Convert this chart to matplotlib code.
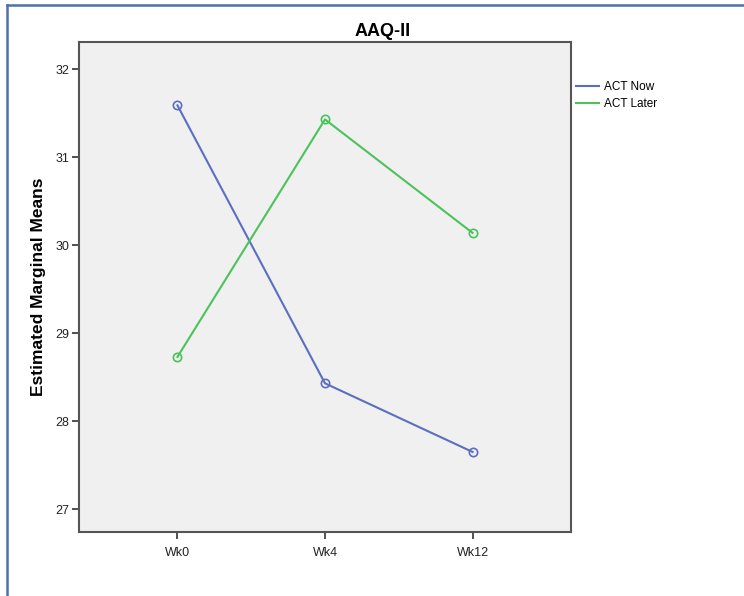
import numpy as np
import matplotlib
matplotlib.use("Agg")
import matplotlib.pyplot as plt
from matplotlib.lines import Line2D

plt.rcParams['font.family'] = ['Liberation Sans', 'DejaVu Sans']

weeks = ['Wk0', 'Wk4', 'Wk12']
act_now = [31.59, 28.43, 27.65]
act_later = [28.73, 31.43, 30.14]
yticks = [27, 28, 29, 30, 31, 32]

c_now = '#5b6fc2'
c_later = '#4cc35a'

fig = plt.figure(figsize=(7.44, 5.96), dpi=100)
ax = fig.add_axes([79/744, 1 - 532/596, (571 - 79)/744, (532 - 42)/596])
ax.set_facecolor('#f0f0f0')

x = np.arange(1, len(weeks) + 1)
ax.plot(x, act_now, color=c_now, lw=1.5, marker='o', ms=6,
        mfc='none', mew=1.2)
ax.plot(x, act_later, color=c_later, lw=1.5, marker='o', ms=6,
        mfc='none', mew=1.2)

ax.set_xlim(1 - 0.667, 3 + 0.667)
ax.set_ylim(26.74, 32.31)
ax.set_xticks(x)
ax.set_xticklabels(weeks)
ax.set_yticks(yticks)
ax.tick_params(axis='both', labelsize=9, length=5, width=1.2, pad=2,
               color='#333333', labelcolor='#222222', direction='out')
ax.tick_params(axis='x', pad=6)
for s in ax.spines.values():
    s.set_color('#555555')
    s.set_linewidth(1.5)

ax.set_ylabel('Estimated Marginal Means', fontsize=12.5, fontweight='bold',
              labelpad=7)
fig.text(383/744, 1 - 32/596, 'AAQ-II', ha='center', va='center',
         fontsize=13, fontweight='bold')

handles = [Line2D([], [], color=c_now, lw=1.5),
           Line2D([], [], color=c_later, lw=1.5)]
ax.legend(handles, ['ACT Now', 'ACT Later'], loc='upper left',
          bbox_to_anchor=(1.005, 0.925), frameon=False,
          fontsize=8.5, handlelength=2.0, handletextpad=0.35,
          labelspacing=0.45, borderaxespad=0.0, borderpad=0.2)

# outer frame
fig.add_artist(Line2D([7/744, 1], [1 - 5/596, 1 - 5/596],
                      transform=fig.transFigure, color='#4f72a6', lw=1.8))
fig.add_artist(Line2D([7/744, 7/744], [0, 1 - 5/596],
                      transform=fig.transFigure, color='#4f72a6', lw=1.8))

fig.savefig('out.png', dpi=100)
